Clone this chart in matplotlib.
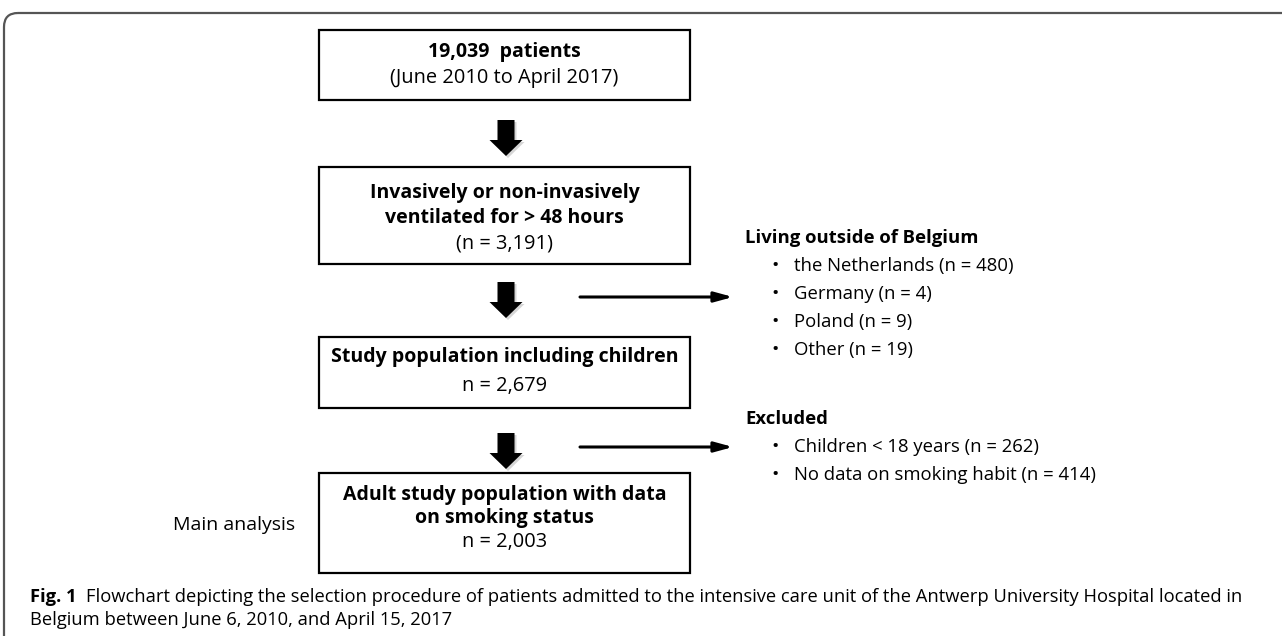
import matplotlib
matplotlib.use("Agg")
import matplotlib.pyplot as plt
from matplotlib.patches import Rectangle, FancyArrow, FancyBboxPatch

# flowchart content
box_bold = [["19,039  patients"],
            ["Invasively or non-invasively", "ventilated for > 48 hours"],
            ["Study population including children"],
            ["Adult study population with data", "on smoking status"]]
box_plain = ["(June 2010 to April 2017)", "(n = 3,191)", "n = 2,679", "n = 2,003"]

side_heads = ["Living outside of Belgium", "Excluded"]
side_items = [["the Netherlands (n = 480)", "Germany (n = 4)", "Poland (n = 9)", "Other (n = 19)"],
              ["Children < 18 years (n = 262)", "No data on smoking habit (n = 414)"]]

caption_bold = "Fig. 1"
caption_text = ("Flowchart depicting the selection procedure of patients admitted to the intensive care unit "
                "of the Antwerp University Hospital located in")
caption_text2 = "Belgium between June 6, 2010, and April 15, 2017"

# layout (pixels)
box_x0, box_x1 = 319, 690
box_y = [(30, 100), (167, 264), (337, 408), (473, 573)]
line_y = [[52, 78], [193, 218, 243], [357, 386], [495, 518, 542]]
arrow_y = [(120, 156), (282, 318), (433, 469)]
side_arrow_y = [297, 447]
head_y = [238, 419]

FONT = "Open Sans"

fig = plt.figure(figsize=(12.82, 6.36), dpi=100)
ax = fig.add_axes([0, 0, 1, 1])
ax.set_xlim(0, 1282)
ax.set_ylim(636, 0)
ax.axis("off")

# outer frame
ax.add_patch(FancyBboxPatch((4, 13), 1500, 800, boxstyle="round,pad=0,rounding_size=14",
                            fc="none", ec="#555555", lw=1.6))

cx = (box_x0 + box_x1) / 2
for i, (y0, y1) in enumerate(box_y):
    ax.add_patch(Rectangle((box_x0, y0), box_x1 - box_x0, y1 - y0, fc="white", ec="black", lw=1.6))
    lines = box_bold[i] + [box_plain[i]]
    for j, t in enumerate(lines):
        bold = j < len(box_bold[i])
        ax.text(cx, line_y[i][j], t, ha="center", va="center", fontsize=14 if bold else 14.4,
                family=FONT, fontweight="bold" if bold else "normal", color="black")

# thick down arrows
ax_x = 506
for (y0, y1) in arrow_y:
    ax.add_patch(FancyArrow(ax_x + 2, y0 + 2, 0, y1 - y0, width=17, head_width=33, head_length=16,
                            length_includes_head=True, fc="#bbbbbb", ec="none", alpha=0.6))
    ax.add_patch(FancyArrow(ax_x, y0, 0, y1 - y0, width=17, head_width=33, head_length=16,
                            length_includes_head=True, fc="black", ec="none"))

# side arrows and lists
for k, y in enumerate(side_arrow_y):
    ax.annotate("", xy=(733, y), xytext=(580, y),
                arrowprops=dict(arrowstyle="-|>,head_length=1.1,head_width=0.3", lw=2.2, color="black",
                                shrinkA=0, shrinkB=0))
    ax.text(745, head_y[k], side_heads[k], ha="left", va="center", fontsize=13.3, family=FONT,
            fontweight="bold")
    for m, item in enumerate(side_items[k]):
        yy = head_y[k] + 28 * (m + 1)
        ax.text(775, yy, "\u2022", ha="center", va="center", fontsize=14, family=FONT)
        ax.text(794, yy, item, ha="left", va="center", fontsize=13.3, family=FONT)

ax.text(295, 525, "Main analysis", ha="right", va="center", fontsize=14, family=FONT)

# caption
t = ax.text(30, 597, caption_bold, ha="left", va="center", fontsize=13.2, family=FONT, fontweight="bold")
fig.canvas.draw()
bb = t.get_window_extent()
ax.text(30 + bb.width + 9, 597, caption_text, ha="left", va="center", fontsize=13.2, family=FONT)
ax.text(30, 620, caption_text2, ha="left", va="center", fontsize=13.2, family=FONT)

fig.savefig("out.png", dpi=100)
